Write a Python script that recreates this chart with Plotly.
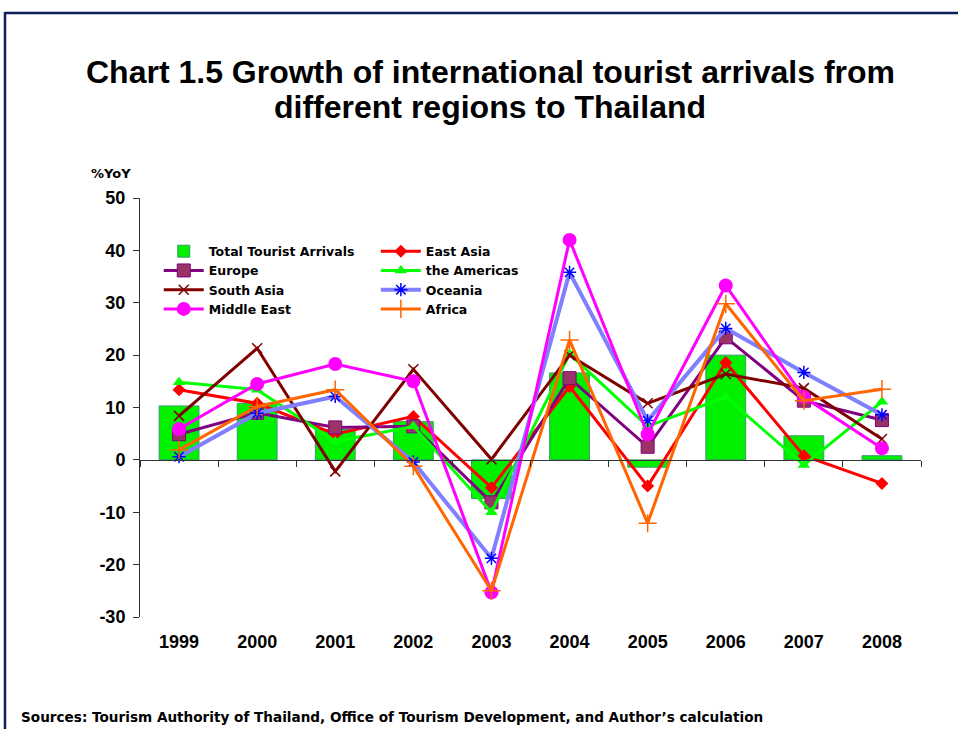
import plotly.graph_objects as go

# Annual growth of arrivals (% year-on-year)
years = ["1999", "2000", "2001", "2002", "2003", "2004", "2005", "2006", "2007", "2008"]
total_arrivals = [10.3, 10.8, 5.8, 7.3, -7.4, 16.6, -1.4, 20.0, 4.6, 0.8]
east_asia = [13.4, 10.8, 4.9, 8.3, -5.3, 14.0, -5.0, 18.6, 0.8, -4.5]
europe = [4.9, 9.0, 6.2, 6.4, -8.1, 15.6, 2.5, 23.4, 11.3, 7.6]
americas = [14.8, 13.4, 3.5, 6.4, -10.0, 20.2, 6.4, 12.0, -1.0, 11.1]
south_asia = [8.4, 21.3, -2.2, 17.3, 0.1, 20.0, 10.8, 16.4, 13.7, 4.0]
oceania = [0.6, 8.9, 12.1, -0.4, -18.8, 35.8, 7.5, 25.1, 16.7, 8.6]
middle_east = [5.9, 14.5, 18.3, 15.0, -25.3, 42.0, 4.9, 33.3, 12.0, 2.2]
africa = [1.9, 10.2, 13.4, -1.2, -25.0, 22.9, -12.1, 29.8, 11.3, 13.5]

# y-axis labels (plain hyphen for negatives)
y_tick_values = [-30, -20, -10, 0, 10, 20, 30, 40, 50]
y_tick_labels = ["-30", "-20", "-10", "0", "10", "20", "30", "40", "50"]

FONT = "Arial, Liberation Sans, sans-serif"
WIDE_FONT = "DejaVu Sans, Verdana, sans-serif"

fig = go.Figure()

fig.add_trace(go.Bar(
    x=years, y=total_arrivals, name="Total Tourist Arrivals",
    marker=dict(color="#00f000", line=dict(color="#3c9a6a", width=1)),
    width=0.51, legend="legend",
))

line_series = [
    ("East Asia", east_asia, "#ff0000", 3, dict(symbol="diamond", size=10, color="#ff0000"), "legend2"),
    ("Europe", europe, "#800080", 3, dict(symbol="square", size=13, color="#993366",
                                          line=dict(color="#800080", width=1)), "legend"),
    ("the Americas", americas, "#00ff00", 3, dict(symbol="triangle-up", size=11, color="#00ff00"), "legend2"),
    ("South Asia", south_asia, "#800000", 3, dict(symbol="x-thin", size=10,
                                                  line=dict(color="#800000", width=1.5)), "legend"),
    ("Oceania", oceania, "#7f7fff", 4, dict(symbol="asterisk", size=11,
                                            line=dict(color="#0000ff", width=1.5)), "legend2"),
    ("Middle East", middle_east, "#ff00ff", 3, dict(symbol="circle", size=14, color="#ff00ff"), "legend"),
    ("Africa", africa, "#ff6600", 3, dict(symbol="cross-thin", size=13,
                                          line=dict(color="#ff6600", width=1.5)), "legend2"),
]

for name, vals, color, width, marker, leg in line_series:
    fig.add_trace(go.Scatter(
        x=years, y=vals, name=name, mode="lines+markers",
        line=dict(color=color, width=width), marker=marker, legend=leg,
    ))

legend_font = dict(family=WIDE_FONT, size=12.5, color="#000000", weight="bold")

fig.update_layout(
    width=958, height=729,
    margin=dict(l=140, r=37, t=198, b=112),
    paper_bgcolor="#ffffff", plot_bgcolor="rgba(0,0,0,0)",
    showlegend=True,
    legend=dict(x=0.024, y=0.908, xanchor="left", yanchor="top", font=legend_font,
                bgcolor="rgba(0,0,0,0)", itemwidth=40, tracegroupgap=0),
    legend2=dict(x=0.302, y=0.908, xanchor="left", yanchor="top", font=legend_font,
                 bgcolor="rgba(0,0,0,0)", itemwidth=40, tracegroupgap=0),
    xaxis=dict(
        type="category", range=[-0.5, 9.5],
        anchor="free", position=0.375,
        showline=True, linecolor="#333333", linewidth=1,
        ticks="outside", tickson="boundaries", ticklen=6, tickcolor="#333333",
        ticklabelstandoff=166,
        showgrid=False, zeroline=False,
        tickfont=dict(family=FONT, size=18, color="#000000", weight="bold"),
    ),
    yaxis=dict(
        range=[-30, 50], tickvals=y_tick_values, ticktext=y_tick_labels,
        showline=True, linecolor="#333333", linewidth=1,
        ticks="outside", ticklen=6, tickcolor="#333333",
        ticklabelstandoff=4,
        showgrid=False, zeroline=False,
        tickfont=dict(family=FONT, size=18, color="#000000", weight="bold"),
    ),
    annotations=[
        dict(text="<b>Chart 1.5 Growth of international tourist arrivals from</b>",
             xref="paper", yref="paper", x=(490 - 140) / 781, y=1.0 + (198 - 72) / 419,
             xanchor="center", yanchor="middle", showarrow=False,
             font=dict(family=FONT, size=32, color="#000000")),
        dict(text="<b>different regions to Thailand</b>",
             xref="paper", yref="paper", x=(490 - 140) / 781, y=1.0 + (198 - 107) / 419,
             xanchor="center", yanchor="middle", showarrow=False,
             font=dict(family=FONT, size=32, color="#000000")),
        dict(text="<b>%YoY</b>",
             xref="paper", yref="paper", x=(111 - 140) / 781, y=1.0 + (198 - 173) / 419,
             xanchor="center", yanchor="middle", showarrow=False,
             font=dict(family=WIDE_FONT, size=13, color="#000000")),
        dict(text="<b>Sources: Tourism Authority of Thailand, Office of Tourism Development, and Author\u2019s calculation</b>",
             xref="paper", yref="paper", x=(19 - 140) / 781, y=-(717 - 617) / 419,
             xanchor="left", yanchor="middle", showarrow=False,
             font=dict(family=WIDE_FONT, size=13.6, color="#000000")),
    ],
    shapes=[
        # page frame: top and left rules
        dict(type="line", xref="paper", yref="paper",
             x0=(5 - 140) / 781, x1=(958 - 140) / 781,
             y0=1.0 + (198 - 13) / 419, y1=1.0 + (198 - 13) / 419,
             line=dict(color="#0b1f5c", width=2.5)),
        dict(type="line", xref="paper", yref="paper",
             x0=(5 - 140) / 781, x1=(5 - 140) / 781,
             y0=1.0 + (198 - 12) / 419, y1=-(729 - 617) / 419,
             line=dict(color="#0b1f5c", width=2.5)),
    ],
)

fig.write_html("out.html")
